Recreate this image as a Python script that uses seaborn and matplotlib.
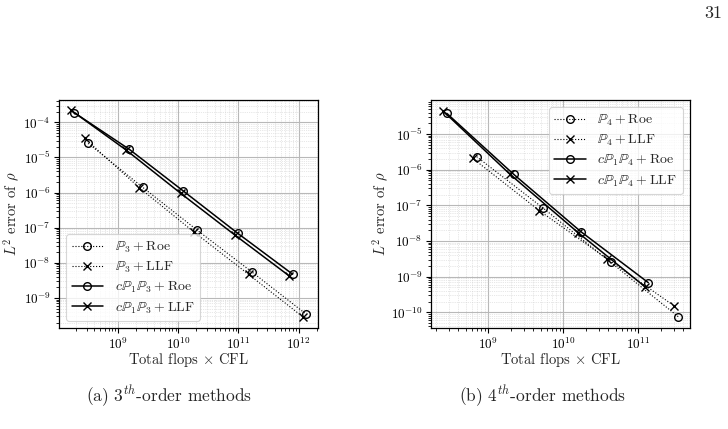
import numpy as np
import pandas as pd
import matplotlib
matplotlib.use("Agg")
import matplotlib.pyplot as plt
from matplotlib.ticker import LogLocator, NullFormatter
import seaborn as sns

# ---------------- data ----------------
# (a) 3rd-order methods
p3_roe_flops = [3.2e8, 2.57e9, 2.06e10, 1.67e11, 1.33e12]
p3_roe_err   = [2.52e-5, 1.41e-6, 8.5e-8, 5.5e-9, 3.45e-10]
p3_llf_flops = [2.79e8, 2.26e9, 1.81e10, 1.47e11, 1.17e12]
p3_llf_err   = [3.5e-5, 1.37e-6, 7.6e-8, 4.7e-9, 2.9e-10]
cp1p3_roe_flops = [1.88e8, 1.54e9, 1.22e10, 9.75e10, 7.9e11]
cp1p3_roe_err   = [1.88e-4, 1.70e-5, 1.10e-6, 6.9e-8, 4.76e-9]
cp1p3_llf_flops = [1.64e8, 1.36e9, 1.10e10, 8.8e10, 7.0e11]
cp1p3_llf_err   = [2.24e-4, 1.63e-5, 9.5e-7, 6.1e-8, 4.2e-9]

# (b) 4th-order methods
p4_roe_flops = [7.0e8, 5.3e9, 4.28e10, 3.41e11]
p4_roe_err   = [2.31e-6, 8.6e-8, 2.53e-9, 7.55e-11]
p4_llf_flops = [6.2e8, 4.79e9, 3.86e10, 2.99e11]
p4_llf_err   = [2.08e-6, 7.1e-8, 3.13e-9, 1.53e-10]
cp1p4_roe_flops = [2.79e8, 2.18e9, 1.72e10, 1.36e11]
cp1p4_roe_err   = [3.8e-5, 7.4e-7, 1.82e-8, 6.8e-10]
cp1p4_llf_flops = [2.47e8, 1.95e9, 1.58e10, 1.23e11]
cp1p4_llf_err   = [4.5e-5, 7.4e-7, 1.71e-8, 5.2e-10]

labels_a = [r"$\mathbb{P}_3 + \mathrm{Roe}$", r"$\mathbb{P}_3 + \mathrm{LLF}$",
            r"$c\mathbb{P}_1\mathbb{P}_3 + \mathrm{Roe}$", r"$c\mathbb{P}_1\mathbb{P}_3 + \mathrm{LLF}$"]
labels_b = [r"$\mathbb{P}_4 + \mathrm{Roe}$", r"$\mathbb{P}_4 + \mathrm{LLF}$",
            r"$c\mathbb{P}_1\mathbb{P}_4 + \mathrm{Roe}$", r"$c\mathbb{P}_1\mathbb{P}_4 + \mathrm{LLF}$"]
captions = [r"(a) $3^{th}$-order methods", r"(b) $4^{th}$-order methods"]
page_number = "31"

# ---------------- style ----------------
sns.set_style("ticks")
plt.rcParams["font.family"] = ["cmr10", "DejaVu Serif"]
plt.rcParams["mathtext.fontset"] = "cm"
plt.rcParams["axes.formatter.use_mathtext"] = True
plt.rcParams["axes.unicode_minus"] = False
plt.rcParams["axes.edgecolor"] = "black"
plt.rcParams["axes.linewidth"] = 0.9
plt.rcParams["xtick.color"] = "black"
plt.rcParams["ytick.color"] = "black"

fig = plt.figure(figsize=(7.28, 4.29), dpi=100)
fig.patch.set_facecolor("white")

ax_a = fig.add_axes([59 / 728, 1 - 328 / 429, 259 / 728, 228 / 429])
ax_b = fig.add_axes([431 / 728, 1 - 328 / 429, 259 / 728, 228 / 429])

styles = [dict(marker="o", linestyle=":", lw=0.8),
          dict(marker="x", linestyle=":", lw=0.8),
          dict(marker="o", linestyle="-", lw=1.1),
          dict(marker="x", linestyle="-", lw=1.1)]

series_a = [(p3_roe_flops, p3_roe_err), (p3_llf_flops, p3_llf_err),
            (cp1p3_roe_flops, cp1p3_roe_err), (cp1p3_llf_flops, cp1p3_llf_err)]
series_b = [(p4_roe_flops, p4_roe_err), (p4_llf_flops, p4_llf_err),
            (cp1p4_roe_flops, cp1p4_roe_err), (cp1p4_llf_flops, cp1p4_llf_err)]


def draw(ax, series, labels, xlim, ylim, legloc, ylab_x):
    for (fx, ey), lab, st in zip(series, labels, styles):
        df = pd.DataFrame({"flops": fx, "err": ey})
        sns.lineplot(data=df, x="flops", y="err", ax=ax, color="black",
                     marker=st["marker"], linestyle=st["linestyle"], lw=st["lw"],
                     markersize=5.5, markerfacecolor="none", markeredgecolor="black",
                     markeredgewidth=1.0, label=lab, sort=False)
    ax.set_xscale("log")
    ax.set_yscale("log")
    ax.set_xlim(*xlim)
    ax.set_ylim(*ylim)
    for axis in (ax.xaxis, ax.yaxis):
        axis.set_major_locator(LogLocator(base=10, numticks=30))
        axis.set_minor_locator(LogLocator(base=10, subs=np.arange(2, 10), numticks=300))
        axis.set_minor_formatter(NullFormatter())
    ax.grid(which="major", color="#b8b8b8", lw=0.8, ls="-")
    ax.grid(which="minor", color="#d0d0d0", lw=0.5, ls=":")
    ax.set_axisbelow(True)
    ax.tick_params(which="major", labelsize=9.5, length=3.5, width=0.8,
                   direction="out", pad=2.5)
    ax.tick_params(which="minor", length=2, width=0.6)
    ax.set_xlabel(r"Total flops $\times$ CFL", fontsize=10.5)
    ax.set_ylabel(r"$L^2$ error of $\rho$", fontsize=10.5)
    ax.xaxis.set_label_coords(0.5, -0.103)
    ax.yaxis.set_label_coords(ylab_x, 0.5)
    for sp in ax.spines.values():
        sp.set_visible(True)
        sp.set_color("black")
    leg = ax.legend(loc=legloc, fontsize=10, frameon=True, fancybox=True,
                    framealpha=0.8, edgecolor="#cccccc", handlelength=2.3,
                    borderpad=0.4, labelspacing=0.35, handletextpad=0.8)
    leg.get_frame().set_linewidth(0.8)


draw(ax_a, series_a, labels_a, (10 ** 8.02, 10 ** 12.32), (10 ** -9.855, 10 ** -3.365),
     "lower left", -0.143)
draw(ax_b, series_b, labels_b, (10 ** 8.236, 10 ** 11.69), (10 ** -10.44, 10 ** -4.047),
     "upper right", -0.154)

fig.text(169 / 728, 1 - 396 / 429, captions[0], ha="center", va="center", fontsize=12.5)
fig.text(543 / 728, 1 - 396 / 429, captions[1], ha="center", va="center", fontsize=12.5)
fig.text(713 / 728, 1 - 13 / 429, page_number, ha="center", va="center", fontsize=13)

fig.savefig("out.png", dpi=100, facecolor="white")
